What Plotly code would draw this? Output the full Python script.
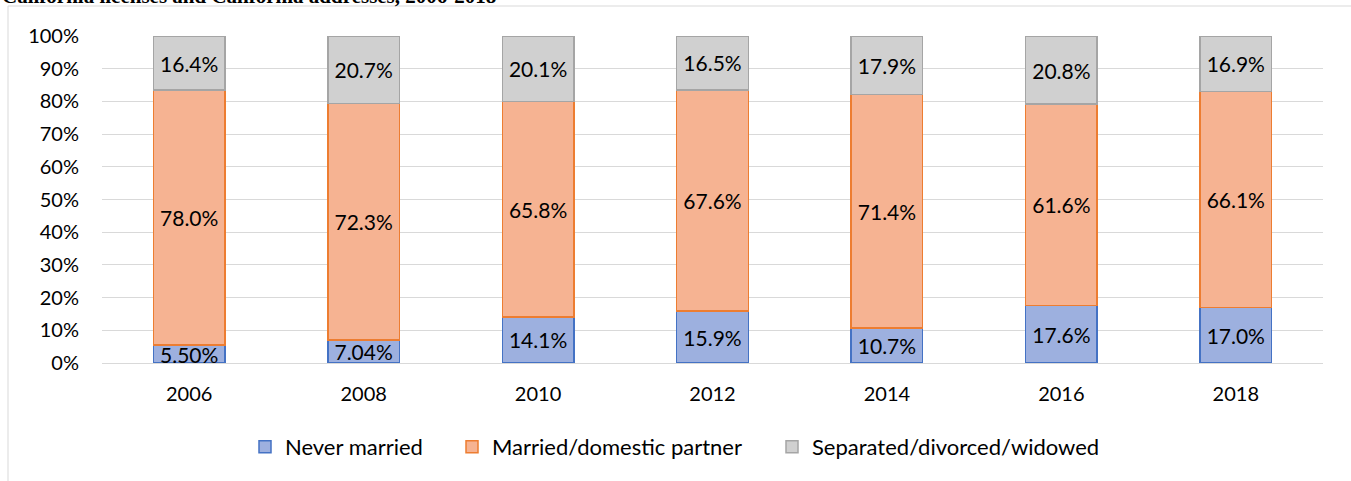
import plotly.graph_objects as go

years = ["2006", "2008", "2010", "2012", "2014", "2016", "2018"]
never_married = [5.50, 7.04, 14.1, 15.9, 10.7, 17.6, 17.0]
married = [78.0, 72.3, 65.8, 67.6, 71.4, 61.6, 66.1]
separated = [16.4, 20.7, 20.1, 16.5, 17.9, 20.8, 16.9]
never_labels = ["5.50%", "7.04%", "14.1%", "15.9%", "10.7%", "17.6%", "17.0%"]
married_labels = ["78.0%", "72.3%", "65.8%", "67.6%", "71.4%", "61.6%", "66.1%"]
separated_labels = ["16.4%", "20.7%", "20.1%", "16.5%", "17.9%", "20.8%", "16.9%"]

FONT = "Lato, 'Open Sans', sans-serif"

L, R, T, B = 102, 28, 36, 118
W, H = 1351, 481
pw, ph = W - L - R, H - T - B

# (name, values, labels, fill, edge, legend id, legend text start in px)
series = [
    ("Never married", never_married, never_labels, "#9db0df", "#4472c4", "legend", 285),
    ("Married/domestic partner", married, married_labels, "#f6b392", "#ed7d31", "legend2", 492),
    ("Separated/divorced/widowed", separated, separated_labels, "#d0d0d0", "#a5a5a5", "legend3", 812),
]

fig = go.Figure()
legends = {}
for name, vals, labels, fill, edge, leg, text_x in series:
    fig.add_trace(go.Bar(
        x=years, y=vals, name=name, legend=leg,
        text=labels, textposition="inside", insidetextanchor="middle",
        constraintext="none", textangle=0,
        textfont=dict(family=FONT, size=21, color="#000000"),
        marker=dict(color=fill, line=dict(color=edge, width=1.5)),
        hoverinfo="skip",
    ))
    legends[leg] = dict(
        orientation="h", x=(text_x - 40 - L) / pw, xanchor="left",
        y=-0.257, yanchor="middle",
        font=dict(family=FONT, size=22, color="#000000"),
        bgcolor="rgba(0,0,0,0)", itemclick=False,
    )

fig.update_layout(
    width=W, height=H,
    barmode="stack", bargap=0.59,
    margin=dict(l=L, r=R, t=T, b=B),
    paper_bgcolor="white", plot_bgcolor="white",
    font=dict(family=FONT, size=20, color="#000000"),
    showlegend=True,
    **legends,
    annotations=[dict(
        text="<b>California licenses and California addresses, 2006-2018</b>",
        font=dict(family="Liberation Serif, serif", size=21, color="#000000"),
        xref="paper", yref="paper", showarrow=False,
        x=-L / pw, xanchor="left",
        y=1 + (T + 4) / ph, yanchor="middle",
    )],
    shapes=[dict(
        type="rect", xref="paper", yref="paper",
        x0=(8 - L) / pw, x1=1.05, y0=-0.5, y1=1 + (T - 6) / ph,
        line=dict(color="#d9d9d9", width=1), fillcolor="rgba(0,0,0,0)",
        layer="below",
    )],
)

fig.update_yaxes(
    range=[0, 100], dtick=10, ticksuffix="%",
    showgrid=True, gridcolor="#d9d9d9", gridwidth=1,
    zeroline=False, showline=False, ticks="",
    ticklabelstandoff=22,
    tickfont=dict(family=FONT, size=20, color="#000000"),
)
fig.update_xaxes(
    showgrid=False, showline=True, linecolor="#d9d9d9", linewidth=1,
    ticks="", ticklabelstandoff=13,
    tickfont=dict(family=FONT, size=20, color="#000000"),
)

fig.write_html("out.html")
